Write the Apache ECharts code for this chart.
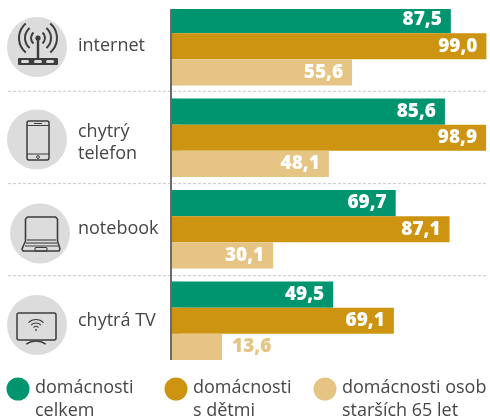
<!DOCTYPE html>
<html><head><meta charset="utf-8">
<style>html,body{margin:0;padding:0;background:#fff}#c{width:490px;height:417px}</style>
<script src="https://cdn.jsdelivr.net/npm/echarts@6/dist/echarts.min.js"></script>
</head><body><div id="c"></div>
<script>
const categories = ['internet', 'chytrý\ntelefon', 'notebook', 'chytrá TV'];
const celkem = [87.5, 85.6, 69.7, 49.5];
const sDetmi = [99.0, 98.9, 87.1, 69.1];
const starsi = [55.6, 48.1, 30.1, 13.6];
const seriesNames = ['domácnosti\ncelkem', 'domácnosti\ns dětmi', 'domácnosti osob\nstarších 65 let'];
const colors = ['#00946f', '#cc9410', '#e5c484'];
const axisStub = [-3, -3, -3, -3];
const FONT = '"Open Sans", sans-serif';
const TXT = '#464646', ICON = '#3d3d3d', DISC = '#dcdcdc';

function fmt(v){ return v.toFixed(1).replace('.', ','); }
function barSeries(name, values, color){
  return [{
    name: name.replace('\n',' '), type:'bar', stack:name, data: values.map(v=>{
      const small = v < 20;
      return {value:v, label:{
        position: small ? 'right' : 'insideRight',
        distance: small ? 10 : 9,
        color: small ? colors[2] : '#fff'
      }};
    }),
    barWidth:26.2, barGap:'0%', itemStyle:{color},
    label:{show:true, fontFamily:FONT, fontSize:19, fontWeight:800, formatter:p=>fmt(p.value)},
    silent:true, animation:false
  },{
    type:'bar', stack:name, data:axisStub, barWidth:26.2, barGap:'0%', itemStyle:{color}, silent:true, animation:false
  }];
}

const line=(x1,y1,x2,y2,w=1.5)=>({type:'line',z:5,shape:{x1,y1,x2,y2},style:{stroke:ICON,lineWidth:w,fill:null}});
const box=(x,y,width,height,r=1,w=1.5)=>({type:'rect',z:5,shape:{x,y,width,height,r},style:{stroke:ICON,lineWidth:w,fill:'transparent'}});
const arc=(cx,cy,r,a0,a1,w=2)=>({type:'arc',z:5,shape:{cx,cy,r,startAngle:a0*Math.PI/180,endAngle:a1*Math.PI/180},style:{stroke:ICON,lineWidth:w,fill:null}});
const disc=(cx,cy,r,fill)=>({type:'circle',z:4,shape:{cx,cy,r},style:{fill}});

const gfx = [];
// top and bottom trims of the plot
gfx.push({type:'rect',z:100,shape:{x:0,y:0,width:490,height:9},style:{fill:'#fff'}});
gfx.push({type:'rect',z:100,shape:{x:160,y:360,width:20,height:10},style:{fill:'#fff'}});
// separators
[91.3,183.6,275.7].forEach(y=>gfx.push({type:'line',z:1,shape:{x1:8,y1:y,x2:486,y2:y},style:{stroke:'#c9c9c9',lineWidth:1,lineDash:[3,2]}}));
// icon discs
[[37,47],[37,139.5],[40,233.5],[37,325]].forEach(c=>gfx.push(disc(c[0],c[1],30,DISC)));
// router
gfx.push({type:'rect',z:5,shape:{x:18,y:58,width:40,height:7,r:1},style:{fill:ICON}});
[25,38,50].forEach(x=>gfx.push({type:'rect',z:6,shape:{x:x-4,y:60,width:8,height:3,r:1.5},style:{fill:DISC}}));
gfx.push(line(38,38,38,58,2.4));
{const d=disc(38,38,2.6,ICON);d.z=5;gfx.push(d);}
[7,13,19].forEach(r=>{gfx.push(arc(38,38,r,-50,50),arc(38,38,r,130,230));});
// phone
gfx.push(box(27,121,22,39,2),line(27,125.5,49,125.5,1),line(27,154,49,154,1),line(34,123.5,42,123.5,1));
gfx.push({type:'circle',z:5,shape:{cx:38,cy:157,r:1.4},style:{stroke:ICON,lineWidth:1,fill:'transparent'}});
// notebook
gfx.push({type:'polyline',z:5,shape:{points:[[25.5,241],[25.5,219],[27.5,217],[55.5,217],[57.5,219],[57.5,241],[60,249],[59,251],[23,251],[22,249],[25.5,241]]},style:{stroke:ICON,lineWidth:1.6,fill:'transparent'}});
gfx.push(line(27,240,56,240,1.1),line(26,243,57,243,1.1),line(25,246,58,246,1.1),box(35,247.5,12,3.5,1,1.1));
// TV
gfx.push(box(17,313,39,27,2));
[3.5,7,10.5].forEach(r=>gfx.push(arc(36,330,r,-135,-45,1.1)));
{const d=disc(36,330,0.9,ICON);d.z=5;gfx.push(d);}
gfx.push(arc(36,358,17,-125,-55,1.6));
// key
[[18,389,36],[176,389,194],[325,389,343]].forEach((k,i)=>{
  gfx.push({type:'circle',z:5,shape:{cx:k[0],cy:k[1],r:11.5},style:{fill:colors[i]}});
  gfx.push({type:'text',z:5,x:k[2]-1,y:376,style:{text:seriesNames[i],fontFamily:FONT,fontSize:18,lineHeight:23,fill:TXT,textAlign:'left',textVerticalAlign:'top'}});
});

const chart = echarts.init(document.getElementById('c'), null, {renderer:'canvas'});
chart.setOption({
  animation:false,
  grid:{left:170.7,top:0.5,width:318.8,height:366,containLabel:false},
  xAxis:{type:'value',min:-3,max:100,show:false},
  yAxis:{type:'category',inverse:true,data:categories,z:3,
    axisLine:{show:true,onZero:false,lineStyle:{color:'#6b6b6b',width:2}},
    axisTick:{show:false},splitLine:{show:false},
    axisLabel:{align:'left',margin:92.7,color:TXT,fontFamily:FONT,fontSize:18,lineHeight:22,
      formatter:v=>v.includes('\n')?'{gap| }\n'+v.split('\n').map(s=>'{t|'+s+'}').join('\n'):v,
      rich:{gap:{fontSize:8,lineHeight:10},t:{fontFamily:FONT,fontSize:18,lineHeight:22,color:TXT}}}},
  series:[...barSeries(seriesNames[0],celkem,colors[0]),...barSeries(seriesNames[1],sDetmi,colors[1]),...barSeries(seriesNames[2],starsi,colors[2])],
  graphic:{elements:gfx}
});
</script></body></html>
